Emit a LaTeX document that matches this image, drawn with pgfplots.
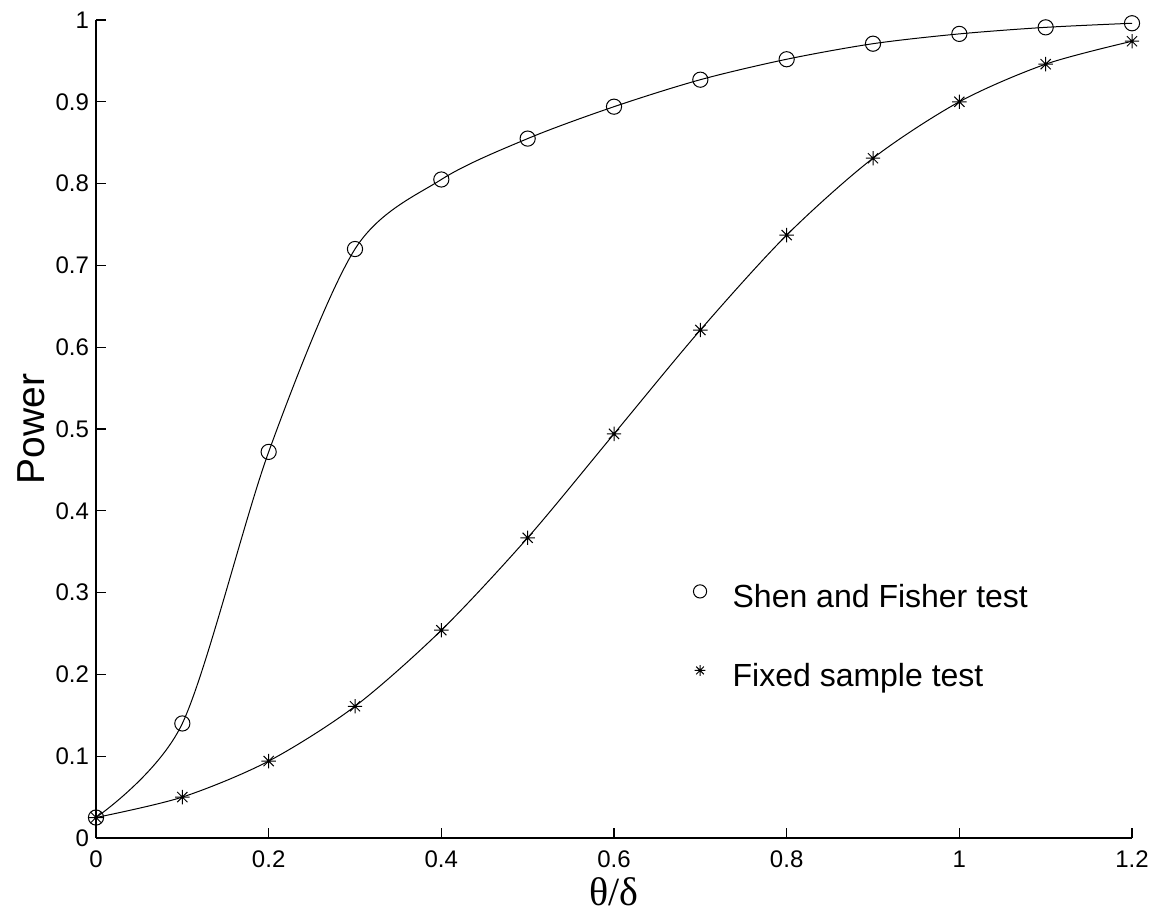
\documentclass[border=0pt]{standalone}
\usepackage{fontspec}
\setmainfont{Liberation Sans}
\newfontfamily\serifgreek{Liberation Serif}
\usepackage{pgfplots}
\pgfplotsset{compat=1.18}
\usetikzlibrary{plotmarks}

% matlab-like eight-armed asterisk
\pgfdeclareplotmark{mstar}{%
  \pgfpathmoveto{\pgfqpoint{-\pgfplotmarksize}{0pt}}\pgfpathlineto{\pgfqpoint{\pgfplotmarksize}{0pt}}%
  \pgfpathmoveto{\pgfqpoint{0pt}{-\pgfplotmarksize}}\pgfpathlineto{\pgfqpoint{0pt}{\pgfplotmarksize}}%
  \pgfpathmoveto{\pgfqpoint{-0.707\pgfplotmarksize}{-0.707\pgfplotmarksize}}\pgfpathlineto{\pgfqpoint{0.707\pgfplotmarksize}{0.707\pgfplotmarksize}}%
  \pgfpathmoveto{\pgfqpoint{-0.707\pgfplotmarksize}{0.707\pgfplotmarksize}}\pgfpathlineto{\pgfqpoint{0.707\pgfplotmarksize}{-0.707\pgfplotmarksize}}%
  \pgfusepathqstroke}

\pgfplotstableread{
x y
0   0.025
0.1 0.140
0.2 0.472
0.3 0.720
0.4 0.805
0.5 0.855
0.6 0.894
0.7 0.927
0.8 0.952
0.9 0.971
1.0 0.983
1.1 0.991
1.2 0.996
}\shenfisher

\pgfplotstableread{
x y
0   0.025
0.1 0.050
0.2 0.094
0.3 0.161
0.4 0.254
0.5 0.367
0.6 0.494
0.7 0.621
0.8 0.737
0.9 0.831
1.0 0.900
1.1 0.946
1.2 0.974
}\fixedsample

\begin{document}
\begin{tikzpicture}
\begin{axis}[
    name=ax,
    scale only axis,
    width=518pt, height=409pt,
    xmin=0, xmax=1.2, ymin=0, ymax=1,
    xtick={0,0.2,...,1.2},
    ytick={0,0.1,...,1},
    axis x line*=bottom,
    axis y line*=left,
    axis line style={line width=0.6pt},
    tick align=inside,
    major tick length=5pt,
    tick style={black, line width=0.6pt},
    tick label style={font=\fontsize{12}{14}\selectfont},
    xticklabel style={yshift=-3pt},
    /pgf/number format/assume math mode=true,
    xlabel={\serifgreek θ/δ},
    ylabel={Power},
    xlabel style={font=\fontsize{20}{22}\selectfont, at={(axis description cs:0.5,0)}, anchor=center, yshift=-27pt},
    ylabel style={font=\fontsize{19.5}{22}\selectfont, at={(axis description cs:0,0.5)}, anchor=center, yshift=32.5pt},
    legend style={draw=none, fill=none, inner sep=0pt, at={(0.5763,0.3117)}, anchor=north west,
                  font=\fontsize{16}{19}\selectfont, row sep=23.5pt,
                  nodes={inner sep=0pt, text height=12pt, text depth=4pt},
                  /tikz/every odd column/.append style={column sep=13pt}},
    legend cell align=left,
]
\addplot[black, line width=0.5pt, smooth, tension=0.5, forget plot] table {\shenfisher};
\addplot[black, line width=0.5pt, smooth, tension=0.5, forget plot] table {\fixedsample};
\addplot[only marks, mark=o, mark size=3.8pt, mark options={line width=0.5pt, black},
         legend image post style={mark size=3.3pt, yshift=4pt}] table {\shenfisher};
\addlegendentry{Shen and Fisher test}
\addplot[only marks, mark=mstar, mark size=3.6pt, mark options={line width=0.5pt, black},
         legend image post style={mark size=2.7pt, yshift=4pt}] table {\fixedsample};
\addlegendentry{Fixed sample test}
\end{axis}
\pgfresetboundingbox
\path (ax.south west) ++(-48pt,-37.5pt) rectangle ++(575.5pt,456.5pt);
\end{tikzpicture}
\end{document}
